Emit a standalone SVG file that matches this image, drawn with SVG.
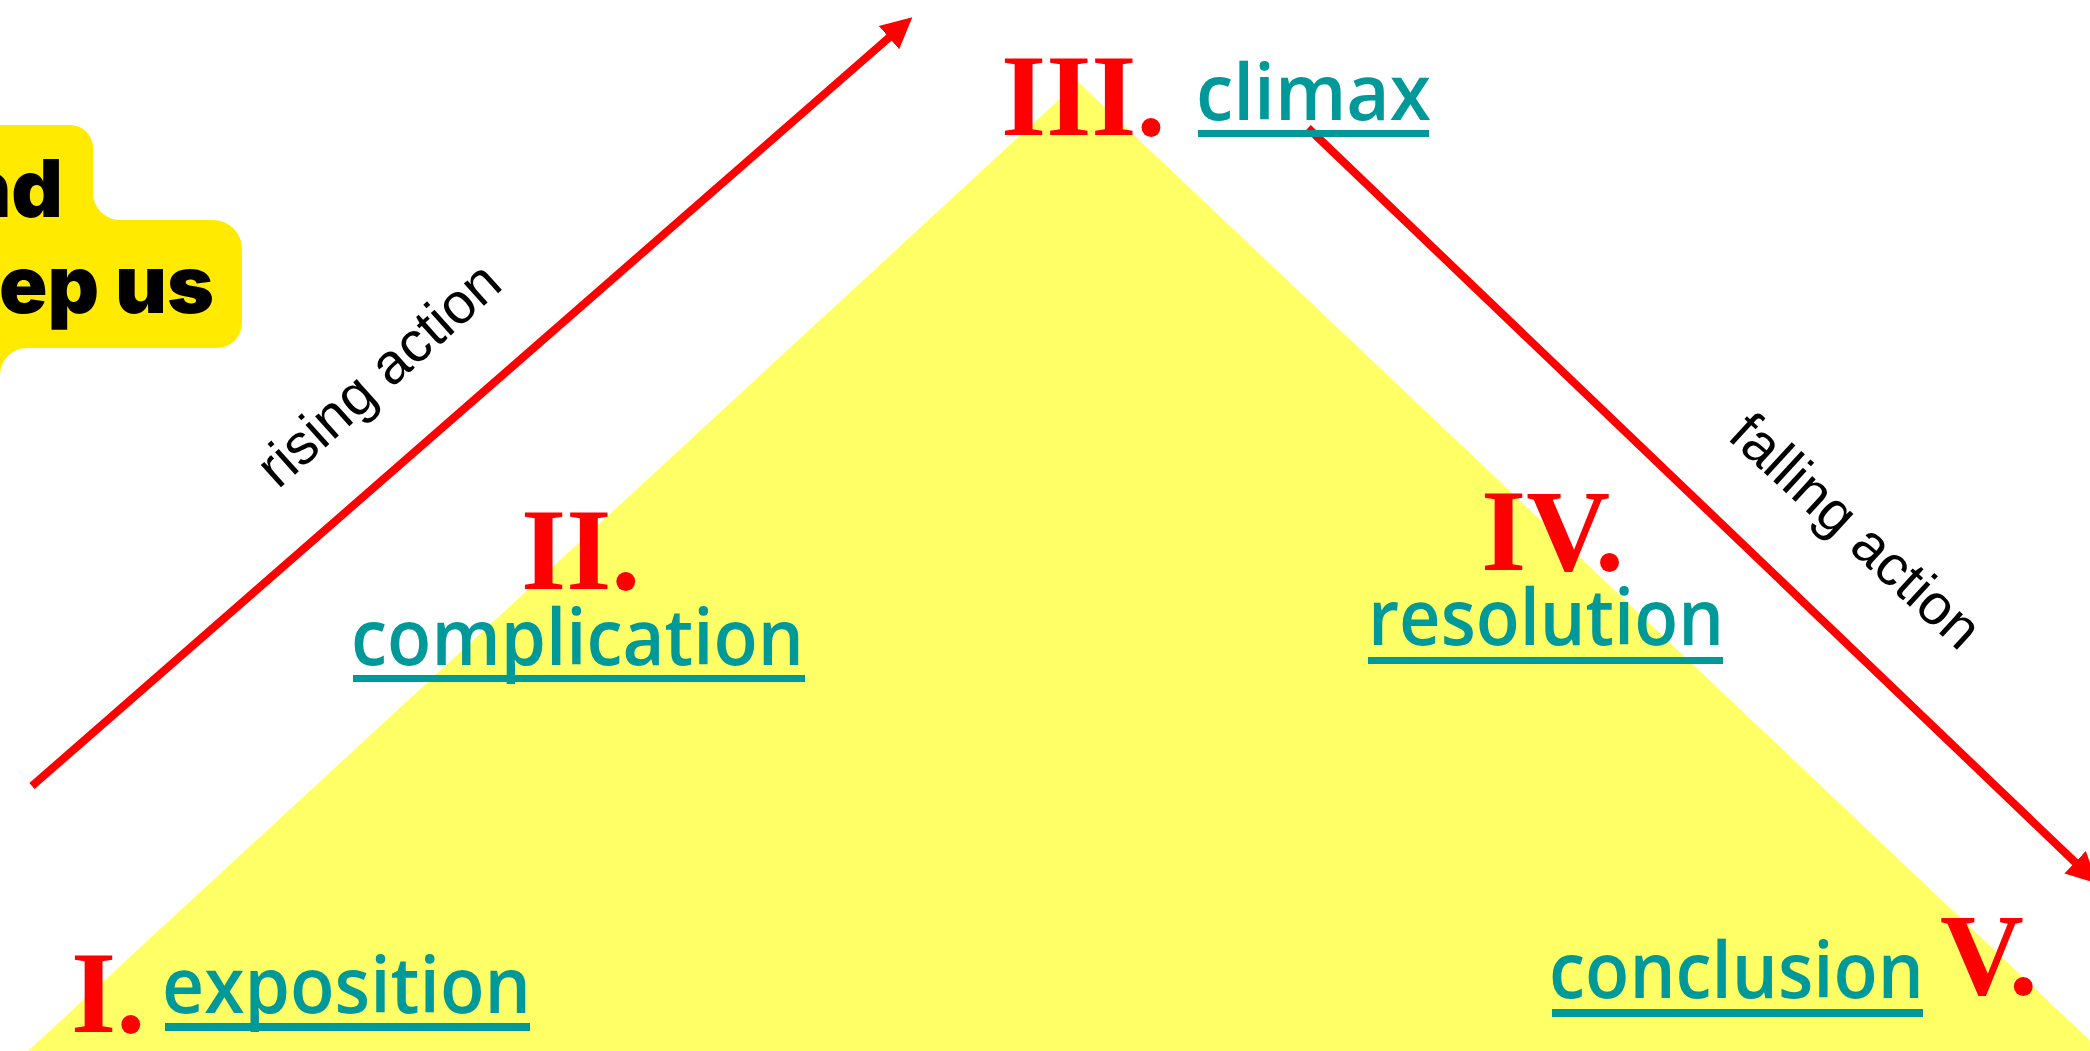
<svg xmlns="http://www.w3.org/2000/svg" width="2090" height="1051" viewBox="0 0 2090 1051">
  <style>
    .num { font-family: "Liberation Serif", "Times New Roman", serif; font-weight: bold; font-size: 116px; fill: #ff0000; }
    .stage { font-family: "Open Sans", "Noto Sans", sans-serif; font-weight: 600; font-size: 78px; fill: #009999; }
    .rule { fill: #009999; }
    .side { font-family: "Liberation Sans", Arial, sans-serif; font-size: 57px; fill: #000000; }
    .bubble-text { font-family: Inter, "DejaVu Sans", sans-serif; font-weight: 900; font-size: 80px; fill: #000000; }
    .arrow { stroke: #ff0000; stroke-width: 8; fill: none; }
  </style>
  <defs>
    <marker id="head" markerUnits="userSpaceOnUse" markerWidth="34" markerHeight="34" viewBox="0 -17 34 34" refX="4" refY="0" orient="auto">
      <path d="M31,0 L0,-15.5 L0,15.5 Z" fill="#ff0000"/>
    </marker>
  </defs>

  <rect width="2090" height="1051" fill="#ffffff"/>

  <!-- plot triangle -->
  <polygon id="triangle" points="1078,82 2101,1051 28,1051" fill="#ffff66"/>

  <!-- speech bubble -->
  <g id="bubble">
    <path d="M-50,125 H70 A23,23 0 0 1 93,148 V193 A27,27 0 0 0 120,220 H213 A29,29 0 0 1 242,249 V323 A25,25 0 0 1 217,348 H27 A27,27 0 0 0 0,375 V420 H-50 Z" fill="#ffea00"/>
    <text class="bubble-text" x="63" y="217" text-anchor="end">nd</text>
    <text class="bubble-text" x="214" y="313" text-anchor="end">ep us</text>
  </g>

  <!-- action arrows -->
  <g id="connectors">
    <line id="rising" class="arrow" x1="32" y1="786" x2="892" y2="35" marker-end="url(#head)"/>
    <line id="falling" class="arrow" x1="1308" y1="128" x2="2078" y2="865" marker-end="url(#head)"/>
  </g>

  <g id="rising-label">
    <text class="side" transform="translate(278,490) rotate(-41.8)">rising action</text>
  </g>
  <g id="falling-label">
    <text class="side" transform="translate(1726,438) rotate(42.5)">falling action</text>
  </g>

  <!-- stages -->
  <g id="exposition">
    <text class="num" x="71" y="1032">I.</text>
    <text class="stage" x="162" y="1013" textLength="369" lengthAdjust="spacingAndGlyphs">exposition</text>
    <rect class="rule" x="165" y="1023" width="365" height="8"/>
  </g>

  <g id="complication">
    <text class="num" x="521" y="589">II.</text>
    <text class="stage" x="351" y="665" textLength="453" lengthAdjust="spacingAndGlyphs">complication</text>
    <rect class="rule" x="353" y="675" width="452" height="7"/>
  </g>

  <g id="climax">
    <text class="num" x="1001" y="135">III.</text>
    <text class="stage" x="1196" y="120" textLength="235" lengthAdjust="spacingAndGlyphs">climax</text>
    <rect class="rule" x="1198" y="130" width="231" height="7"/>
  </g>

  <g id="resolution">
    <text class="num" x="1481" y="570">IV.</text>
    <text class="stage" x="1368" y="645" textLength="356" lengthAdjust="spacingAndGlyphs">resolution</text>
    <rect class="rule" x="1368" y="657" width="355" height="7"/>
  </g>

  <g id="conclusion">
    <text class="num" x="1940" y="994">V.</text>
    <text class="stage" x="1549" y="998" textLength="375" lengthAdjust="spacingAndGlyphs">conclusion</text>
    <rect class="rule" x="1552" y="1009" width="371" height="8"/>
  </g>
</svg>
